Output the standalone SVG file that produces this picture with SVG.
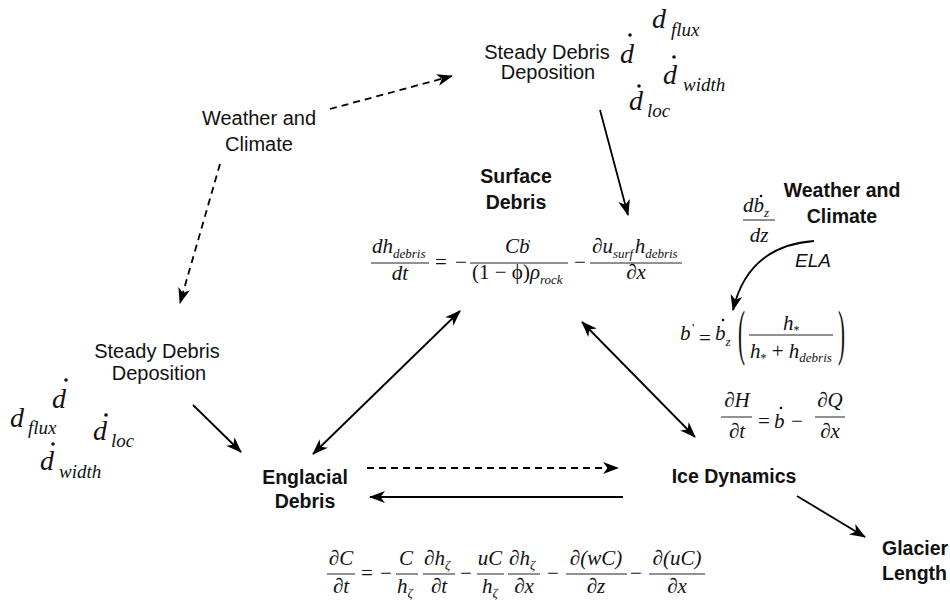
<svg xmlns="http://www.w3.org/2000/svg" width="950" height="604" viewBox="0 0 950 604">
<defs>
<marker id="ah" viewBox="0 0 16 12" refX="15" refY="6" markerWidth="16" markerHeight="12" markerUnits="userSpaceOnUse" orient="auto-start-reverse"><path d="M0,0 L16,6 L0,12 L4.5,6 z" fill="#000"/></marker>
<style>
.lbl{font-family:"Liberation Sans",Arial,sans-serif;font-size:20px;fill:#111;text-anchor:middle}
.bold{font-weight:bold;font-size:19.5px}
.st{text-anchor:start}
.m{font-family:"Liberation Serif","Times New Roman",serif;font-style:italic;font-size:21px;fill:#111}
.r{font-style:normal}
.s{font-size:13px}
.ast{font-size:12px}
.big{font-size:28px}
.sb{font-size:19px}
.c{text-anchor:middle}
.fl{stroke:#222;stroke-width:1}
.dot{fill:#111}
.ar{stroke:#000;stroke-width:1.8;fill:none;marker-end:url(#ah)}
.dash{stroke-dasharray:7 5}
.ela{font-family:"Liberation Sans",Arial,sans-serif;font-style:italic;font-size:19px;fill:#111}
</style>
</defs>
<rect width="950" height="604" fill="#fff"/>

<g id="connectors">
<path class="ar dash" d="M330,109 L452,76"/>
<path class="ar dash" d="M220,164 L180,303"/>
<path class="ar" d="M600,110 L628,215"/>
<path class="ar" d="M193,405 L241,452"/>
<path class="ar" d="M313,454 L460,311" marker-start="url(#ah)"/>
<path class="ar" d="M582,322 L695,437" marker-start="url(#ah)"/>
<path class="ar dash" d="M367,468 L618,468"/>
<path class="ar" d="M623,497 L370,497"/>
<path class="ar" d="M797,496 L865,537"/>
<path class="ar" d="M814,241 Q748,246 733,310"/>
</g>

<g id="weather-climate-left">
<text class="lbl" x="259" y="125">Weather and</text>
<text class="lbl" x="259" y="151">Climate</text>
</g>

<g id="steady-debris-top">
<text class="lbl" x="547" y="59">Steady Debris</text>
<text class="lbl" x="548" y="79">Deposition</text>
<text class="m big" x="620" y="63">d</text><circle class="dot" cx="630" cy="35" r="1.8"/>
<text class="m big" x="652" y="28">d</text><text class="m sb" x="671" y="36">flux</text>
<text class="m big" x="663" y="84">d</text><circle class="dot" cx="674" cy="57" r="1.8"/><text class="m sb" x="683" y="91">width</text>
<text class="m big" x="629" y="110">d</text><circle class="dot" cx="639" cy="86" r="1.8"/><text class="m sb" x="647" y="117">loc</text>
</g>

<g id="steady-debris-left">
<text class="lbl" x="157" y="358">Steady Debris</text>
<text class="lbl" x="159" y="380">Deposition</text>
<text class="m big" x="52" y="408">d</text><circle class="dot" cx="66" cy="380" r="1.8"/>
<text class="m big" x="10" y="427">d</text><text class="m sb" x="28" y="434">flux</text>
<text class="m big" x="93" y="440">d</text><circle class="dot" cx="106" cy="415" r="1.8"/><text class="m sb" x="111" y="447">loc</text>
<text class="m big" x="40" y="470">d</text><circle class="dot" cx="53" cy="444" r="1.8"/><text class="m sb" x="59" y="478">width</text>
</g>

<g id="surface-debris">
<text class="lbl bold" x="516" y="183">Surface</text>
<text class="lbl bold" x="516" y="209">Debris</text>
<text class="m" x="372" y="253">dh<tspan class="s" dy="5">debris</tspan></text>
<line class="fl" x1="371" y1="263" x2="429" y2="263"/>
<text class="m c" x="400" y="280">dt</text>
<text class="m r c" x="441" y="269">=</text>
<text class="m r c" x="461" y="269">−</text>
<text class="m" x="505" y="253">Cb</text><text class="m r s" x="528" y="248">'</text>
<line class="fl" x1="470" y1="263" x2="568" y2="263"/>
<text class="m r" x="472" y="279">(1 − ϕ)<tspan class="m">ρ</tspan><tspan class="m s" dy="5">rock</tspan></text>
<text class="m r c" x="580" y="269">−</text>
<text class="m" x="592" y="253">∂u<tspan class="s" dy="5">surf</tspan><tspan dx="1.5" dy="-5">h</tspan><tspan class="s" dy="5">debris</tspan></text>
<line class="fl" x1="590" y1="263" x2="682" y2="263"/>
<text class="m c" x="636" y="279">∂x</text>
</g>

<g id="weather-climate-right">
<text class="lbl bold" x="842" y="197">Weather and</text>
<text class="lbl bold" x="842" y="223">Climate</text>
<text class="m" x="743" y="212">db<tspan class="s" dy="5">z</tspan></text><circle class="dot" cx="761" cy="196" r="1.3"/>
<line class="fl" x1="743" y1="220" x2="775" y2="220"/>
<text class="m c" x="759" y="242">dz</text>
<text class="ela" x="795" y="267">ELA</text>
</g>

<g id="mass-balance">
<text class="m" x="680" y="340">b</text><text class="m r s" x="692" y="332">'</text>
<text class="m r c" x="705" y="345">=</text>
<text class="m" x="715" y="340">b<tspan class="s" dy="6">z</tspan></text><circle class="dot" cx="723" cy="320" r="1.3"/>
<text class="m r" transform="translate(738,353) scale(1,2.9)">(</text>
<text class="m" x="783" y="330">h<tspan class="r ast" dy="4">*</tspan></text>
<line class="fl" x1="749" y1="335" x2="833" y2="335"/>
<text class="m" x="750" y="358">h<tspan class="r ast" dy="4">*</tspan><tspan class="r" dy="-4"> + </tspan>h<tspan class="s" dy="4">debris</tspan></text>
<text class="m r" transform="translate(838,353) scale(1,2.9)">)</text>
</g>

<g id="ice-dynamics">
<text class="lbl bold" x="734" y="483">Ice Dynamics</text>
<text class="m c" x="737" y="407">∂H</text>
<line class="fl" x1="721" y1="417" x2="752" y2="417"/>
<text class="m c" x="737" y="438">∂t</text>
<text class="m r c" x="764" y="428">=</text>
<text class="m" x="774" y="428">b</text><circle class="dot" cx="781" cy="408" r="1.3"/>
<text class="m r c" x="797" y="428">−</text>
<text class="m c" x="830" y="407">∂Q</text>
<line class="fl" x1="815" y1="417" x2="845" y2="417"/>
<text class="m c" x="830" y="438">∂x</text>
</g>

<g id="englacial-debris">
<text class="lbl bold" x="305" y="484">Englacial</text>
<text class="lbl bold" x="305" y="508">Debris</text>
<text class="m c" x="341" y="565">∂C</text>
<line class="fl" x1="327" y1="574" x2="355" y2="574"/>
<text class="m c" x="341" y="593">∂t</text>
<text class="m r c" x="367" y="580">=</text>
<text class="m r c" x="386" y="580">−</text>
<text class="m c" x="406" y="565">C</text>
<line class="fl" x1="396" y1="574" x2="418" y2="574"/>
<text class="m" x="397" y="593">h<tspan class="s" dy="4">ζ</tspan></text>
<text class="m" x="424" y="565">∂h<tspan class="s" dy="4">ζ</tspan></text>
<line class="fl" x1="423" y1="574" x2="455" y2="574"/>
<text class="m c" x="439" y="593">∂t</text>
<text class="m r c" x="466" y="580">−</text>
<text class="m c" x="490" y="565">uC</text>
<line class="fl" x1="477" y1="574" x2="504" y2="574"/>
<text class="m" x="482" y="593">h<tspan class="s" dy="4">ζ</tspan></text>
<text class="m" x="509" y="565">∂h<tspan class="s" dy="4">ζ</tspan></text>
<line class="fl" x1="508" y1="574" x2="540" y2="574"/>
<text class="m c" x="524" y="593">∂x</text>
<text class="m r c" x="553" y="580">−</text>
<text class="m c" x="596" y="565">∂(wC)</text>
<line class="fl" x1="566" y1="574" x2="627" y2="574"/>
<text class="m c" x="596" y="593">∂z</text>
<text class="m r c" x="636" y="580">−</text>
<text class="m c" x="677" y="565">∂(uC)</text>
<line class="fl" x1="649" y1="574" x2="705" y2="574"/>
<text class="m c" x="677" y="593">∂x</text>
</g>

<g id="glacier-length">
<text class="lbl bold st" x="882" y="555">Glacier</text>
<text class="lbl bold st" x="882" y="580">Length</text>
</g>
</svg>
